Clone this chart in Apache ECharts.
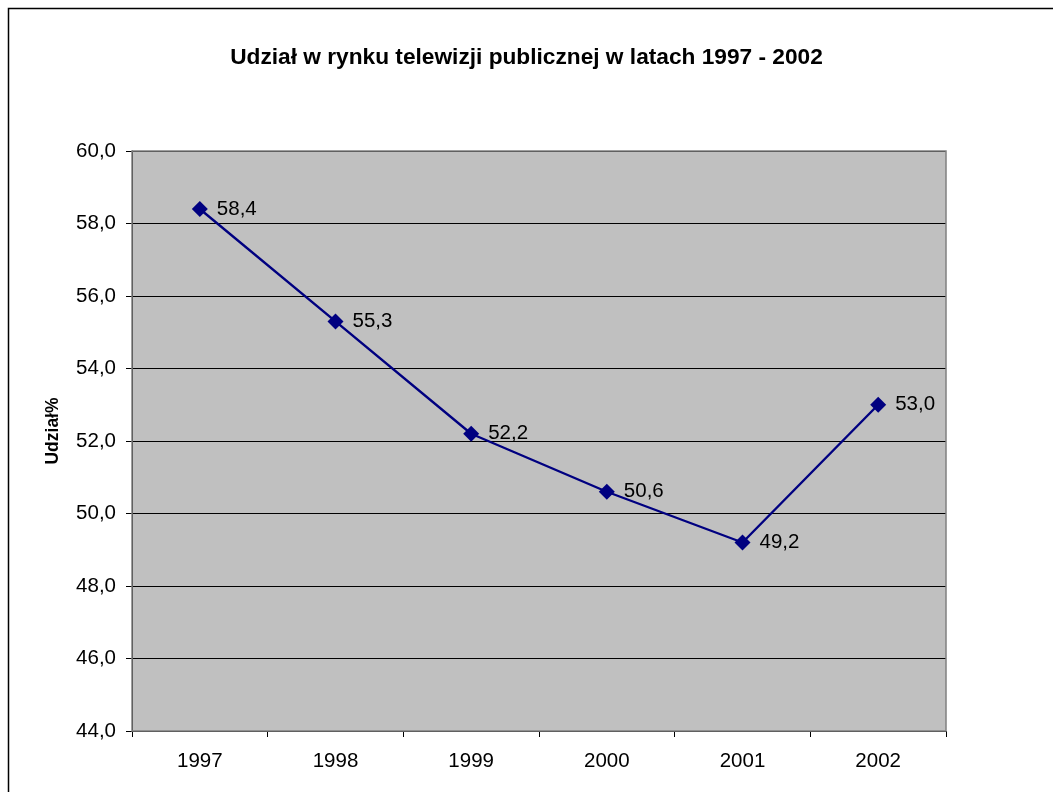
<!DOCTYPE html>
<html><head><meta charset="utf-8">
<script src="https://cdn.jsdelivr.net/npm/echarts@6/dist/echarts.min.js"></script>
<style>html,body{margin:0;padding:0;background:#fff}#c{width:1053px;height:792px}</style>
</head><body><div id="c"></div>
<script>
var categories = ['1997','1998','1999','2000','2001','2002'];
var values = [58.4, 55.3, 52.2, 50.6, 49.2, 53.0];
var yMin = 44, yMax = 60, yStep = 2;
var titleText = 'Udział w rynku telewizji publicznej w latach 1997 - 2002';
var yName = 'Udział%';

function fmt(v){ return v.toFixed(1).replace('.', ','); }
var FF = 'Liberation Sans, Arial, sans-serif';

var chart = echarts.init(document.getElementById('c'));
chart.setOption({
  animation: false,
  backgroundColor: '#fff',
  textStyle: {fontFamily: FF},
  title: {
    text: titleText, left: 'center', top: 41,
    textStyle: {fontSize: 22.7, fontWeight: 'bold', color: '#000', fontFamily: FF}
  },
  graphic: [
    {type: 'rect', shape: {x: 8.5, y: 8.5, width: 1100, height: 900}, style: {fill: 'none', stroke: '#000', lineWidth: 1.5}, z: 100},
    {type: 'rect', shape: {x: 132, y: 151, width: 814, height: 580}, style: {fill: 'none', stroke: '#808080', lineWidth: 1.5}, z: 1}
  ],
  grid: {left: 132, top: 151, width: 814, height: 580, show: true, backgroundColor: '#c0c0c0', borderWidth: 0},
  xAxis: {
    type: 'category', data: categories, boundaryGap: true,
    axisLine: {lineStyle: {color: '#000', width: 1}},
    axisTick: {show: true, length: 6, lineStyle: {color: '#000'}},
    axisLabel: {color: '#000', fontSize: 20.5, margin: 20, fontFamily: FF},
    splitLine: {show: false}
  },
  yAxis: {
    type: 'value', min: yMin, max: yMax, interval: yStep,
    name: yName, nameLocation: 'middle', nameGap: 70, nameRotate: 90,
    nameTextStyle: {fontSize: 17.5, fontWeight: 'bold', color: '#000', fontFamily: FF, padding: [0, 0, 0, 20]},
    axisLine: {show: true, lineStyle: {color: '#000', width: 1}},
    axisTick: {show: true, length: 6, lineStyle: {color: '#000'}},
    axisLabel: {color: '#000', fontSize: 20.5, margin: 16, formatter: function(v){return fmt(v);}, fontFamily: FF},
    splitLine: {show: true, lineStyle: {color: '#000', width: 1}}
  },
  series: [{
    type: 'line', data: values,
    symbol: 'diamond', symbolSize: 16,
    lineStyle: {color: '#000080', width: 2.4},
    itemStyle: {color: '#000080'},
    label: {show: true, position: 'right', distance: 9, color: '#000', fontSize: 20.5,
      fontFamily: FF,
      formatter: function(p){ return fmt(p.value); }},
    z: 10
  }]
});
</script></body></html>
